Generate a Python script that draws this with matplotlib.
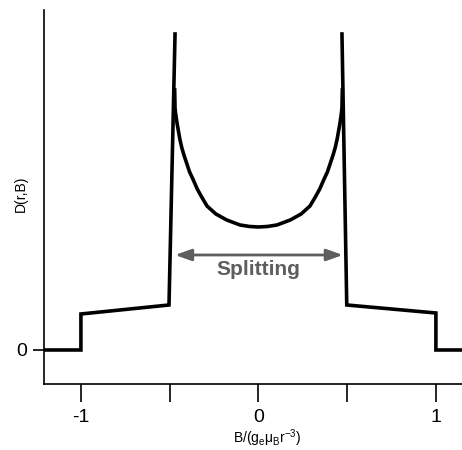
import numpy as np
import matplotlib

matplotlib.use("Agg")
import matplotlib.pyplot as plt

plt.rcParams["font.family"] = ["Liberation Sans", "DejaVu Sans"]
plt.rcParams["mathtext.default"] = "regular"

# outer envelope: plateaus and the two spikes
left_b = [-1.25, -1.0, -1.0, -0.504, -0.47]
left_d = [0.0, 0.0, 0.36, 0.45, 3.16]
right_b = [0.47, 0.497, 0.999, 0.999, 1.2]
right_d = [3.16, 0.45, 0.37, 0.0, 0.0]

# inner U-shaped branch between the spikes (one half, mirrored below)
half_b = [0.0, 0.05, 0.104, 0.179, 0.24, 0.29, 0.32, 0.345, 0.367, 0.388,
          0.405, 0.42, 0.433, 0.443, 0.452, 0.458, 0.463, 0.467, 0.470, 0.472]
half_d = [1.23, 1.235, 1.25, 1.30, 1.36, 1.44, 1.53, 1.61, 1.70, 1.78,
          1.87, 1.95, 2.03, 2.11, 2.20, 2.26, 2.32, 2.37, 2.42, 2.60]

split_from = -0.47
split_to = 0.475
split_level = 0.95
split_label_level = 0.80

x_major = [-1, 0, 1]
x_minor = [-0.5, 0.5]


def plot_spectrum():
    fig = plt.figure(figsize=(4.62, 4.5), dpi=100)
    ax = fig.add_axes([0.0952, 0.1467, 0.9048, 0.8311])

    curve_b = [-b for b in half_b[::-1]] + half_b[1:]
    curve_d = half_d[::-1] + half_d[1:]

    line_kw = dict(color="black", lw=2.6, solid_joinstyle="miter")
    ax.plot(left_b, left_d, **line_kw)
    ax.plot(right_b, right_d, **line_kw)
    ax.plot(curve_b, curve_d, color="black", lw=2.6, solid_joinstyle="round")

    gray = "#5e5e5e"
    ax.annotate("", xy=(split_to, split_level), xytext=(split_from, split_level),
                arrowprops=dict(arrowstyle="<|-|>,head_length=0.7,head_width=0.25",
                                color=gray, lw=2, mutation_scale=14,
                                shrinkA=0, shrinkB=0))
    ax.text(0.0, split_label_level, "Splitting", color=gray, fontsize=15,
            fontweight="bold", ha="center", va="center")

    ax.set_xlim(-1.208, 1.146)
    ax.set_ylim(-0.34, 3.40)

    for side in ("top", "right"):
        ax.spines[side].set_visible(False)
    for side in ("left", "bottom"):
        ax.spines[side].set_linewidth(1.2)

    ax.set_xticks(x_major)
    ax.set_xticklabels(["-1", "0", "1"])
    ax.set_xticks(x_minor, minor=True)
    ax.tick_params(axis="x", which="both", direction="out", length=13,
                   width=1.2, labelsize=14, pad=5)
    ax.set_yticks([0])
    ax.tick_params(axis="y", direction="out", length=8, width=1.2,
                   labelsize=14, pad=4)

    ax.set_xlabel(r"B/(g$_e$μ$_B$r$^{-3}$)", fontsize=10, va="center")
    ax.xaxis.set_label_coords(0.533, -0.146)
    ax.set_ylabel("D(r,B)", fontsize=10, va="center")
    ax.yaxis.set_label_coords(-0.055, 0.508)

    fig.savefig("out.png", dpi=100)
    plt.close(fig)


if __name__ == "__main__":
    plot_spectrum()
